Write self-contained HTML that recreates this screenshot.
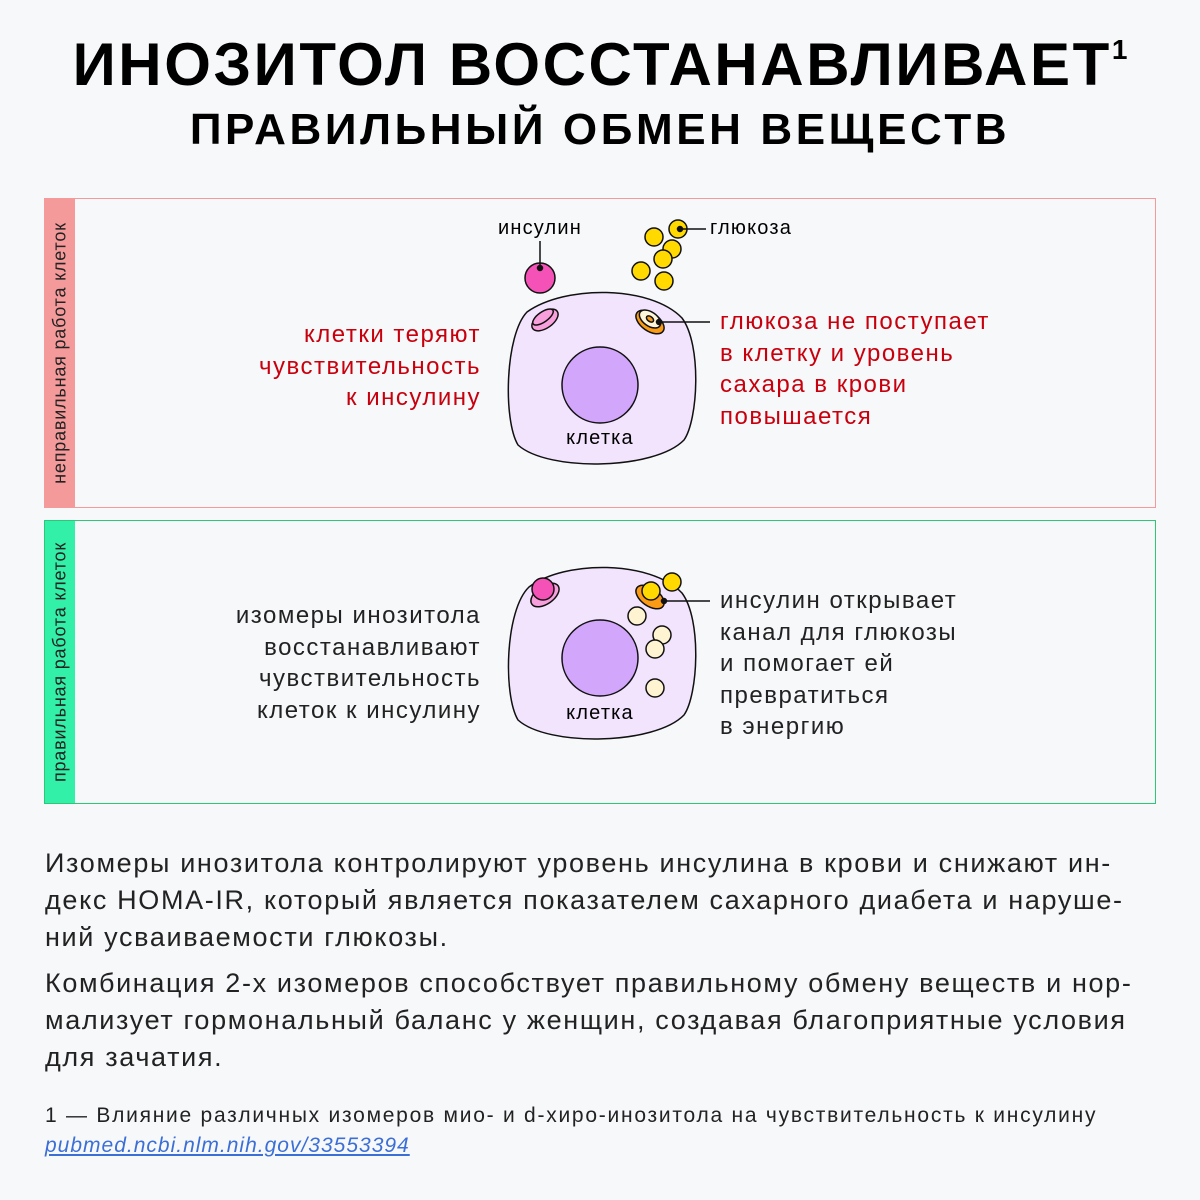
<!DOCTYPE html>
<html><head><meta charset="utf-8"><style>
body{margin:0;width:1200px;height:1200px;background:#f7f8fa;font-family:"Liberation Sans","DejaVu Sans",sans-serif;position:relative;overflow:hidden}
.t1{position:absolute;left:0;width:1200px;top:30px;text-align:center;font-weight:900;font-size:60px;letter-spacing:2.6px;color:#000}
.t2{position:absolute;left:0;width:1200px;top:105px;text-align:center;font-weight:900;font-size:44px;letter-spacing:3.6px;color:#000}
.box{position:absolute;left:44px;width:1110px;background:#f7f8fa}
.side{position:absolute;left:0;top:0;width:30px;height:100%}
.side span{position:absolute;left:15px;top:50%;transform:translate(-50%,-50%) rotate(-90deg);white-space:nowrap;font-size:18px;letter-spacing:0.8px;color:#222}
.txt{position:absolute;font-size:24px;line-height:31.5px;letter-spacing:1.5px}
.p{position:absolute;left:45px;width:1140px;font-size:27px;line-height:37px;color:#222;letter-spacing:1.65px;white-space:nowrap}
</style></head><body>
<div class="t1">ИНОЗИТОЛ ВОССТАНАВЛИВАЕТ<sup style="font-size:28px;vertical-align:26px;letter-spacing:0">1</sup></div>
<div class="t2">ПРАВИЛЬНЫЙ ОБМЕН ВЕЩЕСТВ</div>

<div class="box" style="top:198px;height:308px;border:1px solid #f59a9a">
<div class="side" style="background:#f59a9a"><span>неправильная работа клеток</span></div></div>
<div class="box" style="top:520px;height:282px;border:1px solid #2ec77a">
<div class="side" style="background:#33f0a8"><span>правильная работа клеток</span></div></div>

<svg width="1200" height="1200" style="position:absolute;left:0;top:0">
<g stroke="#111" stroke-width="1.5">
<path d="M527,312 C565,285 650,285 682,318 C702,345 698,420 684,440 C655,470 548,472 518,445 C503,420 505,335 527,312Z" fill="#f2e4fd"/>
<circle cx="600" cy="385" r="38" fill="#d1a6fb"/>
<path d="M529,587 C565,560 650,560 682,593 C702,620 698,695 684,715 C655,745 548,747 518,720 C503,695 505,610 529,587Z" fill="#f2e4fd"/>
<circle cx="600" cy="658" r="38" fill="#d1a6fb"/>
<circle cx="540" cy="278" r="15" fill="#f552b8"/>
<g fill="#ffd900">
<circle cx="654" cy="237" r="9"/><circle cx="678" cy="229" r="9"/><circle cx="672" cy="249" r="9"/><circle cx="663" cy="259" r="9"/><circle cx="641" cy="271" r="9"/><circle cx="664" cy="281" r="9"/>
<circle cx="672" cy="582" r="9"/></g>
<ellipse cx="545" cy="320" rx="15" ry="8" transform="rotate(-35 545 320)" fill="#f7a0dc"/>
<ellipse cx="543" cy="317" rx="12" ry="5" transform="rotate(-35 543 317)" fill="#f7a0dc"/>
<ellipse cx="650" cy="322" rx="16" ry="9" transform="rotate(35 650 322)" fill="#fb9a14"/>
<ellipse cx="650" cy="319" rx="12" ry="7" transform="rotate(35 650 319)" fill="#fff5d8"/>
<ellipse cx="650" cy="319" rx="4" ry="2.5" transform="rotate(35 650 319)" fill="#fb9a14"/>
<ellipse cx="545" cy="595" rx="16" ry="9" transform="rotate(-35 545 595)" fill="#f7a0dc"/>
<circle cx="543" cy="589" r="11" fill="#f552b8"/>
<ellipse cx="650" cy="597" rx="16" ry="9" transform="rotate(35 650 597)" fill="#fb9a14"/>
<circle cx="651" cy="591" r="9" fill="#ffd900"/>
<g fill="#fff4d2"><circle cx="637" cy="616" r="9"/><circle cx="662" cy="635" r="9"/><circle cx="655" cy="649" r="9"/><circle cx="655" cy="688" r="9"/></g>
</g>
<g stroke="#111" stroke-width="1.5" fill="#111">
<line x1="540" y1="241" x2="540" y2="268"/><circle cx="540" cy="268" r="2.5"/>
<line x1="680" y1="229" x2="706" y2="229"/><circle cx="680" cy="229" r="2.5"/>
<line x1="659" y1="322" x2="710" y2="322"/><circle cx="659" cy="322" r="2.5"/>
<line x1="664" y1="601" x2="710" y2="601"/><circle cx="664" cy="601" r="2.5"/>
</g>
<g font-size="20" font-family="Liberation Sans,sans-serif" letter-spacing="1.2">
<text x="540" y="234" text-anchor="middle">инсулин</text>
<text x="710" y="234">глюкоза</text>
<text x="600" y="444" text-anchor="middle">клетка</text>
<text x="600" y="719" text-anchor="middle">клетка</text>
</g>
</svg>

<div class="txt" style="right:719px;top:319px;text-align:right;color:#c8000d">клетки теряют<br>чувствительность<br>к инсулину</div>
<div class="txt" style="left:720px;top:306px;color:#c8000d">глюкоза не поступает<br>в клетку и уровень<br>сахара в крови<br>повышается</div>
<div class="txt" style="right:719px;top:600px;text-align:right;color:#222">изомеры инозитола<br>восстанавливают<br>чувствительность<br>клеток к инсулину</div>
<div class="txt" style="left:720px;top:585px;color:#222">инсулин открывает<br>канал для глюкозы<br>и помогает ей<br>превратиться<br>в энергию</div>

<div class="p" style="top:845px">Изомеры инозитола контролируют уровень инсулина в крови и снижают ин-<br>декс HOMA-IR, который является показателем сахарного диабета и наруше-<br>ний усваиваемости глюкозы.</div>
<div class="p" style="top:965px">Комбинация 2-х изомеров способствует правильному обмену веществ и нор-<br>мализует гормональный баланс у женщин, создавая благоприятные условия<br>для зачатия.</div>
<div style="position:absolute;left:45px;top:1101px;font-size:21px;line-height:30px;color:#222;letter-spacing:1.75px;white-space:nowrap">1 — Влияние различных изомеров мио- и d-хиро-инозитола на чувствительность к инсулину<br><span style="color:#3b6fd6;font-style:italic;text-decoration:underline;letter-spacing:1px">pubmed.ncbi.nlm.nih.gov/33553394</span></div>
</body></html>
